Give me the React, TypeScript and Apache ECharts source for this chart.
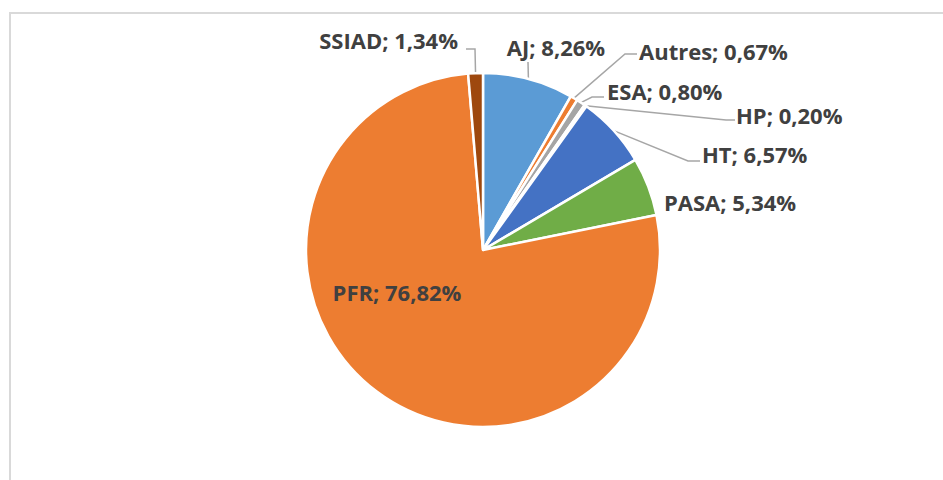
import React, { useEffect, useRef } from "react";
import * as echarts from "echarts";

const categories = ["AJ", "Autres", "ESA", "HP", "HT", "PASA", "PFR", "SSIAD"];
const values = [8.26, 0.67, 0.8, 0.2, 6.57, 5.34, 76.82, 1.34];
const colors = ["#5B9BD5", "#ED7D31", "#A5A5A5", "#FFC000", "#4472C4", "#70AD47", "#ED7D31", "#9E480E"];

// label layout: [x, y, align, leader bend points]
const labelLayouts: any[] = [
  { x: 556, y: 47, align: "center", pts: [[528, 62]] },
  { x: 639, y: 51, align: "left", pts: [[625, 54], [637, 54]] },
  { x: 607, y: 91, align: "left", pts: [[592, 97], [604, 97]] },
  { x: 736, y: 115, align: "left", pts: [[726, 120], [735, 120]] },
  { x: 702, y: 154, align: "left", pts: [[688, 161], [700, 161]] },
  { x: 664, y: 202, align: "left", pts: null },
  { x: 397, y: 292, align: "center", pts: null },
  { x: 458, y: 40, align: "right", pts: [[475, 49], [466, 49]] },
];

export default function App() {
  const ref = useRef<HTMLDivElement>(null);
  useEffect(() => {
    const chart = echarts.init(ref.current!, null, { renderer: "svg" });
    chart.setOption({
      animation: false,
      backgroundColor: "#ffffff",
      graphic: [
        {
          type: "rect",
          shape: { x: 10, y: 13, width: 1000, height: 1000 },
          style: { fill: "none", stroke: "#d9d9d9", lineWidth: 2 },
          silent: true,
        },
      ],
      series: [
        {
          type: "pie",
          center: [483, 250],
          radius: [0, 177],
          startAngle: 90,
          clockwise: true,
          avoidLabelOverlap: false,
          itemStyle: { borderColor: "#ffffff", borderWidth: 2.5 },
          label: {
            show: true,
            position: "outside",
            color: "#404040",
            fontFamily: "Open Sans",
            fontWeight: "bold",
            fontSize: 22,
            formatter: (p: any) => `${p.name}; ${p.value.toFixed(2).replace(".", ",")}%`,
          },
          labelLine: {
            show: true,
            smooth: false,
            length: 10,
            length2: 10,
            lineStyle: { color: "#a6a6a6", width: 1.5 },
          },
          labelLayout: (params: any) => {
            const l = labelLayouts[params.dataIndex];
            const out: any = {
              x: l.x,
              y: l.y,
              align: l.align,
              verticalAlign: "middle",
            };
            if (l.pts && params.labelLinePoints) {
              out.labelLinePoints = [params.labelLinePoints[0], ...l.pts];
            }
            return out;
          },
          data: categories.map((c, i) => {
            const d: any = { name: c, value: values[i], itemStyle: { color: colors[i] } };
            if (c === "PFR") {
              d.label = { position: "inside" };
              d.labelLine = { show: false };
            }
            if (c === "PASA") {
              d.labelLine = { show: false };
            }
            return d;
          }),
        },
      ],
    });
    return () => chart.dispose();
  }, []);
  return (
    <div
      ref={ref}
      style={{ position: "absolute", left: 0, top: 0, width: 943, height: 480 }}
    />
  );
}
